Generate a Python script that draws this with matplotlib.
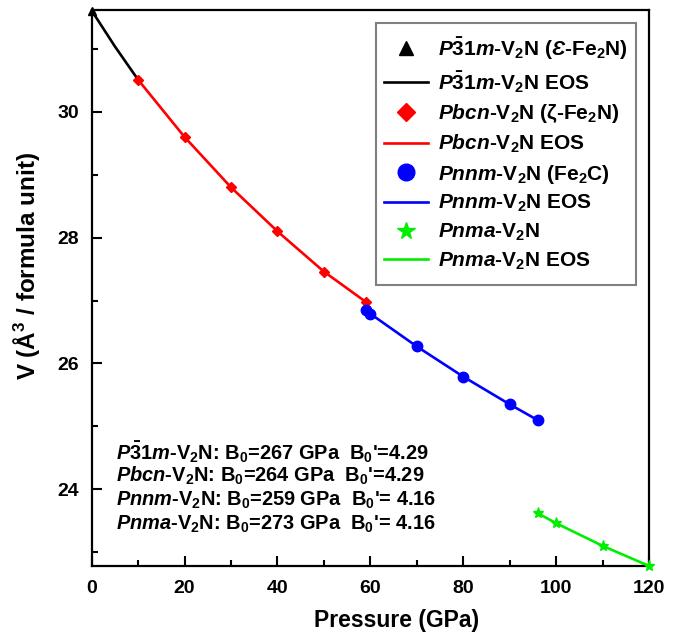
import matplotlib
matplotlib.use("Agg")
import matplotlib.pyplot as plt
from matplotlib.lines import Line2D
from matplotlib.patches import Rectangle
from matplotlib.transforms import IdentityTransform

plt.rcParams['font.family'] = ['Liberation Sans', 'DejaVu Sans']
plt.rcParams['font.weight'] = 'bold'
plt.rcParams['mathtext.fontset'] = 'custom'
plt.rcParams['mathtext.rm'] = 'Liberation Sans:bold'
plt.rcParams['mathtext.it'] = 'Liberation Sans:italic:bold'
plt.rcParams['mathtext.bf'] = 'Liberation Sans:bold'
plt.rcParams['mathtext.default'] = 'rm'

# ---- data ----
p31m_P = [0]
p31m_V = [31.61]
p31m_eos_P = [0, 5, 10]
p31m_eos_V = [31.61, 31.04, 30.51]

pbcn_P = [10, 20, 30, 40, 50, 59]
pbcn_V = [30.51, 29.60, 28.80, 28.10, 27.46, 26.98]

pnnm_P = [59, 60, 70, 80, 90, 96]
pnnm_V = [26.85, 26.79, 26.27, 25.79, 25.35, 25.10]

pnma_P = [96, 100, 110, 120]
pnma_V = [23.62, 23.46, 23.10, 22.78]

x_ticks = [0, 20, 40, 60, 80, 100, 120]
y_ticks = [24, 26, 28, 30]

annot_lines = [
    r"$\mathit{P}\bar{3}1\mathit{m}$-V$_2$N: B$_0$=267 GPa  B$_0$'=4.29",
    r"$\mathit{Pbcn}$-V$_2$N: B$_0$=264 GPa  B$_0$'=4.29",
    r"$\mathit{Pnnm}$-V$_2$N: B$_0$=259 GPa  B$_0$'= 4.16",
    r"$\mathit{Pnma}$-V$_2$N: B$_0$=273 GPa  B$_0$'= 4.16",
]

legend_labels = [
    r"$\mathit{P}\bar{3}1\mathit{m}$-V$_2$N ($\mathit{Ɛ}$-Fe$_2$N)",
    r"$\mathit{P}\bar{3}1\mathit{m}$-V$_2$N EOS",
    r"$\mathit{Pbcn}$-V$_2$N (ζ-Fe$_2$N)",
    r"$\mathit{Pbcn}$-V$_2$N EOS",
    r"$\mathit{Pnnm}$-V$_2$N (Fe$_2$C)",
    r"$\mathit{Pnnm}$-V$_2$N EOS",
    r"$\mathit{Pnma}$-V$_2$N",
    r"$\mathit{Pnma}$-V$_2$N EOS",
]

RED = '#ff0000'
BLUE = '#0000ff'
GREEN = '#00ee00'
H = 637

fig = plt.figure(figsize=(6.89, 6.37), dpi=100)
ax = fig.add_axes([0.1331, 0.1115, 0.9420 - 0.1331, 0.9843 - 0.1115])

lw = 1.9
ax.plot(p31m_eos_P, p31m_eos_V, color='black', lw=lw, zorder=2)
ax.plot(pbcn_P, pbcn_V, color=RED, lw=lw, zorder=2)
ax.plot(pnnm_P, pnnm_V, color=BLUE, lw=lw, zorder=2)
ax.plot(pnma_P, pnma_V, color=GREEN, lw=lw, zorder=2)

ax.plot(p31m_P, p31m_V, '^', color='black', ms=6, ls='none', clip_on=False, zorder=3)
ax.plot(pbcn_P, pbcn_V, 'D', color=RED, ms=5, ls='none', zorder=3)
ax.plot(pnnm_P, pnnm_V, 'o', color=BLUE, ms=7.5, ls='none', zorder=3)
ax.plot(pnma_P, pnma_V, '*', color=GREEN, ms=8, ls='none', clip_on=False, zorder=3)

ax.set_xlim(0, 120)
ax.set_ylim(22.78, 31.62)
ax.set_xticks(x_ticks)
ax.set_xticks([10, 30, 50, 70, 90, 110], minor=True)
ax.set_yticks(y_ticks)
ax.set_yticks([23, 25, 27, 29, 31], minor=True)
ax.tick_params(which='both', direction='in', top=False, right=False, width=1.5,
               labelsize=14)
ax.tick_params(which='major', length=7)
ax.tick_params(which='minor', length=4)
ax.tick_params(axis='y', pad=9)
ax.tick_params(axis='x', pad=10)
for s in ax.spines.values():
    s.set_linewidth(1.6)

# axis labels placed in figure pixels
fig.text(397, H - 621, 'Pressure (GPa)', transform=IdentityTransform(),
         fontsize=16.5, fontweight='bold', ha='center', va='center')
fig.text(27, H - 266, r'V (Å$^3$ / formula unit)', transform=IdentityTransform(),
         fontsize=17.5, fontweight='bold', ha='center', va='center', rotation=90)

for i, t in enumerate(annot_lines):
    fig.text(116, H - (452 + 24 * i), t, transform=IdentityTransform(),
             fontsize=14.4, fontweight='bold', va='center', ha='left')

# legend frame drawn by hand
fig.patches.append(Rectangle((376, H - 285), 636 - 376, 285 - 23,
                             transform=IdentityTransform(), fill=True,
                             facecolor='white', edgecolor='#808080', lw=1.5,
                             zorder=4))

handles = [
    Line2D([], [], color='black', marker='^', ls='none', ms=10),
    Line2D([], [], color='black', lw=lw),
    Line2D([], [], color=RED, marker='D', ls='none', ms=9),
    Line2D([], [], color=RED, lw=lw),
    Line2D([], [], color=BLUE, marker='o', ls='none', ms=12),
    Line2D([], [], color=BLUE, lw=lw),
    Line2D([], [], color=GREEN, marker='*', ls='none', ms=13),
    Line2D([], [], color=GREEN, lw=lw),
]
leg = fig.legend(handles, legend_labels, loc='upper left',
                 bbox_to_anchor=(384, H - 35), bbox_transform=IdentityTransform(),
                 fontsize=15, frameon=False,
                 handlelength=2.1, handletextpad=0.5,
                 labelspacing=0.36, borderpad=0, borderaxespad=0)
leg.set_zorder(5)

fig.savefig('out.png', dpi=100)
